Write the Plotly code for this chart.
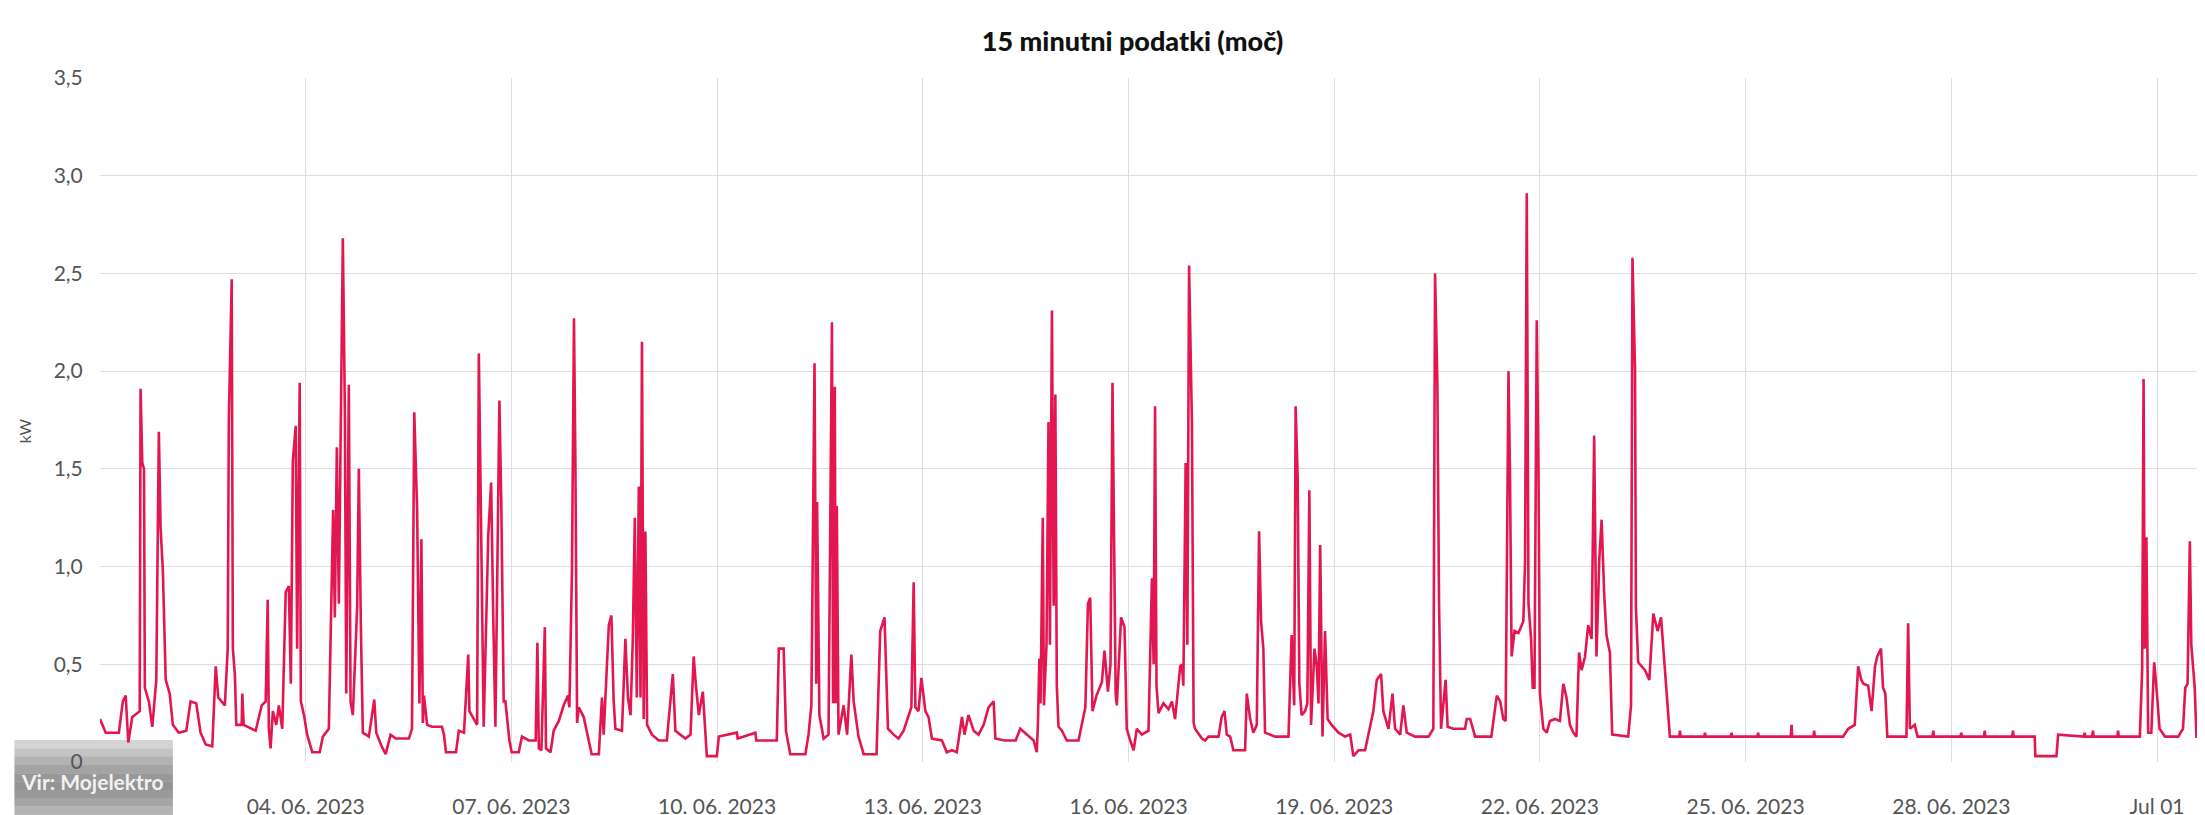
import pandas as pd
import plotly.graph_objects as go

# 15-minute power readings (hours since 2023-06-01 00:00, kW)
jun01_03 = [
    (0.0, 0.22), (2.0, 0.15), (6.6, 0.15), (8.0, 0.31), (9.0, 0.34), (9.9, 0.10), (11.3, 0.23),
    (13.0, 0.25), (13.9, 0.26), (14.2, 1.91), (14.8, 1.53), (15.4, 1.50), (15.7, 0.38), (17.1, 0.31),
    (18.3, 0.18), (19.7, 0.42), (20.6, 1.69), (21.2, 1.20), (22.0, 0.98), (23.0, 0.42), (24.4, 0.35),
    (25.5, 0.19), (27.6, 0.15), (30.2, 0.16), (31.7, 0.31), (33.7, 0.30), (35.2, 0.15), (37.0, 0.09),
    (39.3, 0.08), (40.5, 0.49), (41.4, 0.33), (43.7, 0.29), (44.7, 0.58), (45.1, 1.75), (46.1, 2.47),
    (46.5, 0.58), (47.2, 0.45), (47.7, 0.19), (49.6, 0.19), (49.8, 0.35), (50.3, 0.19), (54.5, 0.16),
    (56.6, 0.29), (58.0, 0.31), (58.7, 0.83), (59.1, 0.17), (59.7, 0.07), (60.5, 0.26), (61.7, 0.19),
    (62.6, 0.29), (63.8, 0.17), (65.0, 0.87), (66.1, 0.90), (66.8, 0.40), (67.5, 1.54), (68.5, 1.72),
    (69.0, 0.58), (69.9, 1.94), (70.3, 0.31), (71.4, 0.24),
]
jun04_06 = [
    (72.5, 0.14), (74.3, 0.05), (76.9, 0.05), (78.0, 0.13), (80.1, 0.17), (81.6, 1.29), (82.2, 0.74),
    (82.9, 1.61), (83.6, 0.81), (85.0, 2.68), (85.7, 1.81), (86.2, 0.35), (87.1, 1.93), (87.7, 0.31),
    (88.5, 0.24), (90.0, 0.79), (90.6, 1.50), (91.3, 0.70), (92.0, 0.15), (94.1, 0.13), (96.0, 0.32),
    (96.7, 0.15), (98.6, 0.08), (100.0, 0.04), (101.7, 0.14), (103.5, 0.12), (104.6, 0.12), (108.1, 0.12),
    (109.2, 0.17), (110.0, 1.79), (111.0, 1.29), (111.8, 0.30), (112.5, 1.14), (113.0, 0.20), (113.4, 0.34),
    (114.5, 0.19), (116.2, 0.18), (119.7, 0.18), (120.4, 0.14), (121.1, 0.05), (124.6, 0.05), (125.6, 0.16),
    (127.4, 0.15), (128.9, 0.55), (129.3, 0.26), (130.8, 0.22), (132.0, 0.19), (132.6, 2.09), (133.5, 1.08),
    (134.3, 0.18), (135.9, 1.16), (136.9, 1.43), (137.6, 0.78), (138.4, 0.18), (139.8, 1.85), (140.5, 1.29),
    (141.3, 0.31), (141.9, 0.31), (143.3, 0.11),
]
jun07_09 = [
    (144.1, 0.05), (146.6, 0.05), (147.7, 0.13), (150.1, 0.11), (152.5, 0.11), (153.1, 0.61), (153.6, 0.07),
    (154.5, 0.06), (155.7, 0.69), (156.1, 0.07), (157.7, 0.05), (158.8, 0.16), (160.6, 0.21), (162.3, 0.29),
    (163.8, 0.34), (164.3, 0.28), (165.2, 0.98), (165.9, 2.27), (166.4, 1.53), (167.0, 0.20), (167.6, 0.28),
    (169.3, 0.23), (171.1, 0.11), (172.1, 0.04), (174.6, 0.04), (175.7, 0.33), (176.3, 0.14), (178.1, 0.70),
    (179.0, 0.75), (179.8, 0.31), (180.4, 0.17), (182.7, 0.16), (183.9, 0.63), (184.8, 0.33), (185.7, 0.24),
    (186.5, 0.63), (187.2, 1.25), (187.9, 0.33), (188.6, 1.41), (189.2, 0.33), (189.7, 2.15), (190.3, 0.22),
    (190.9, 1.18), (191.5, 0.19), (193.2, 0.14), (195.6, 0.11), (198.4, 0.11), (200.5, 0.45), (201.4, 0.16),
    (203.2, 0.14), (204.9, 0.12), (206.7, 0.14), (207.8, 0.54), (208.6, 0.39), (209.6, 0.24), (211.0, 0.36),
    (211.9, 0.14), (212.4, 0.03), (215.9, 0.03),
]
jun10_12 = [
    (216.6, 0.13), (222.9, 0.15), (223.2, 0.12), (229.4, 0.15), (229.7, 0.11), (236.9, 0.11), (237.6, 0.58),
    (239.3, 0.58), (240.1, 0.16), (241.6, 0.04), (246.9, 0.04), (248.0, 0.14), (249.0, 0.29), (250.1, 2.04),
    (250.7, 0.40), (251.0, 1.33), (251.8, 0.24), (253.3, 0.12), (255.0, 0.14), (256.2, 2.25), (256.6, 0.30),
    (257.2, 1.92), (257.5, 0.30), (257.9, 1.31), (258.5, 0.14), (260.3, 0.29), (261.5, 0.14), (263.0, 0.55),
    (263.8, 0.31), (265.5, 0.13), (267.3, 0.04), (271.8, 0.04), (273.1, 0.67), (274.6, 0.74), (275.8, 0.17),
    (277.8, 0.14), (279.5, 0.12), (281.3, 0.16), (284.0, 0.28), (284.8, 0.92), (285.4, 0.28), (286.5, 0.26),
    (287.5, 0.43),
]
jun13_15 = [
    (288.9, 0.26), (290.0, 0.23), (291.2, 0.12), (294.7, 0.11), (296.4, 0.05), (298.2, 0.06), (299.9, 0.05),
    (301.7, 0.23), (302.6, 0.14), (304.0, 0.24), (305.8, 0.16), (307.5, 0.14), (309.3, 0.19), (311.0, 0.28),
    (312.8, 0.31), (313.4, 0.12), (316.6, 0.11), (320.5, 0.11), (322.1, 0.17), (324.4, 0.14), (326.8, 0.11),
    (327.9, 0.05), (328.3, 0.20), (328.8, 0.53), (329.2, 0.30), (330.0, 1.25), (330.4, 0.29), (331.3, 0.60),
    (332.0, 1.74), (332.5, 0.60), (333.2, 2.31), (333.8, 0.80), (334.4, 1.88), (334.9, 0.39), (335.5, 0.18),
    (336.7, 0.16), (338.4, 0.11), (342.5, 0.11), (344.9, 0.28), (345.8, 0.81), (346.6, 0.84), (347.4, 0.26),
    (348.8, 0.34), (350.7, 0.41), (351.6, 0.57), (352.8, 0.36), (353.7, 0.50), (354.4, 1.94), (355.1, 0.78),
    (355.5, 0.35), (355.9, 0.29), (357.4, 0.74), (358.6, 0.69), (359.4, 0.17),
]
jun16_18 = [
    (360.6, 0.11), (361.8, 0.06), (362.9, 0.17), (364.7, 0.14), (367.0, 0.16), (368.2, 0.94), (368.8, 0.50),
    (369.3, 1.82), (369.8, 0.39), (370.5, 0.25), (372.2, 0.30), (374.0, 0.27), (375.2, 0.31), (376.3, 0.22),
    (378.1, 0.49), (378.7, 0.50), (379.2, 0.39), (380.0, 1.53), (380.6, 0.60), (381.2, 2.54), (382.2, 1.73),
    (382.8, 0.20), (383.3, 0.17), (385.7, 0.12), (386.8, 0.11), (388.0, 0.13), (391.5, 0.13), (392.6, 0.23),
    (393.6, 0.26), (394.4, 0.14), (395.6, 0.13), (396.7, 0.06), (400.8, 0.06), (401.4, 0.35), (402.6, 0.22),
    (403.7, 0.15), (404.9, 0.19), (405.7, 1.18), (406.4, 0.72), (407.2, 0.58), (407.8, 0.15), (411.3, 0.13),
    (416.0, 0.13), (417.1, 0.65), (418.0, 0.29), (418.5, 1.82), (419.2, 1.46), (419.8, 0.40), (420.6, 0.24),
    (421.8, 0.26), (422.6, 0.30), (423.3, 1.39), (423.9, 0.19), (425.1, 0.58), (425.9, 0.49), (426.5, 0.30),
    (427.1, 1.11), (427.9, 0.13), (428.8, 0.67), (429.7, 0.22), (431.1, 0.19),
]
jun19_21 = [
    (433.5, 0.15), (435.8, 0.13), (437.6, 0.14), (438.7, 0.03), (440.5, 0.06), (442.8, 0.06), (444.0, 0.15),
    (445.7, 0.26), (446.9, 0.42), (448.4, 0.45), (449.2, 0.26), (451.0, 0.17), (452.4, 0.35), (453.3, 0.17),
    (455.1, 0.14), (456.2, 0.29), (457.4, 0.15), (460.3, 0.13), (465.0, 0.13), (466.7, 0.17), (467.3, 2.50),
    (468.1, 1.95), (468.7, 0.81), (469.4, 0.17), (471.0, 0.42), (471.7, 0.18), (473.7, 0.17), (477.8, 0.17),
    (478.4, 0.22), (479.6, 0.22), (481.3, 0.13), (487.0, 0.13), (488.9, 0.34), (490.1, 0.31), (491.2, 0.22),
    (492.0, 0.21), (493.0, 2.00), (493.5, 1.51), (494.1, 0.54), (495.1, 0.67), (496.5, 0.66), (498.2, 0.72),
    (498.8, 1.02), (499.4, 2.91), (500.0, 0.81), (500.9, 0.63), (501.5, 0.38), (502.1, 0.38), (502.9, 2.26),
    (503.5, 1.50),
]
jun22_24 = [
    (504.0, 0.35), (505.2, 0.17), (506.4, 0.15), (507.5, 0.21), (509.3, 0.22), (511.0, 0.21), (512.2, 0.40),
    (513.3, 0.33), (514.5, 0.19), (515.7, 0.15), (516.8, 0.13), (517.7, 0.56), (518.6, 0.47), (519.8, 0.54),
    (520.9, 0.70), (522.1, 0.63), (523.0, 1.67), (523.8, 0.54), (524.8, 1.04), (525.6, 1.24), (526.5, 0.86),
    (527.3, 0.65), (528.5, 0.56), (529.3, 0.14), (534.9, 0.13), (535.9, 0.29), (536.4, 2.58), (537.3, 2.00),
    (537.6, 0.79), (538.4, 0.51), (540.8, 0.47), (542.3, 0.42), (543.7, 0.76), (545.2, 0.67), (546.4, 0.74),
    (547.5, 0.54), (548.3, 0.35), (549.5, 0.13), (552.8, 0.13), (553.0, 0.16), (553.3, 0.13), (561.5, 0.13),
    (561.8, 0.15), (562.0, 0.13), (570.8, 0.13), (571.1, 0.15), (571.3, 0.13),
]
jun25_27 = [
    (580.1, 0.13), (580.4, 0.15), (580.6, 0.13), (591.8, 0.13), (592.1, 0.19), (592.3, 0.13), (599.7, 0.13),
    (600.0, 0.16), (600.2, 0.13), (610.1, 0.13), (611.9, 0.17), (614.2, 0.19), (615.4, 0.49), (616.5, 0.42),
    (617.2, 0.40), (618.9, 0.39), (620.1, 0.26), (621.3, 0.49), (622.1, 0.54), (623.4, 0.58), (624.1, 0.38),
    (624.9, 0.35), (625.6, 0.13), (632.3, 0.13), (632.9, 0.71), (633.5, 0.17), (635.2, 0.19), (636.2, 0.13),
    (641.4, 0.13), (641.7, 0.16), (641.9, 0.13),
]
jun28_jul01 = [
    (651.2, 0.13), (651.5, 0.15), (651.7, 0.13), (659.4, 0.13), (659.7, 0.16), (659.9, 0.13), (669.3, 0.13),
    (669.6, 0.16), (669.8, 0.13), (677.2, 0.13), (677.4, 0.03), (684.8, 0.03), (685.4, 0.14), (694.4, 0.13),
    (694.7, 0.15), (694.9, 0.13), (697.3, 0.13), (697.6, 0.16), (697.8, 0.13), (706.1, 0.13), (706.4, 0.16),
    (706.6, 0.13), (714.0, 0.13), (714.8, 0.47), (715.3, 1.96), (715.7, 0.58), (716.3, 1.15), (716.9, 0.15),
    (718.0, 0.15), (719.0, 0.51), (719.7, 0.40), (720.9, 0.17), (722.8, 0.13), (727.4, 0.13), (729.1, 0.17),
    (729.9, 0.38), (730.7, 0.40), (731.5, 1.13), (732.0, 0.60), (733.2, 0.38), (733.8, 0.13), (738.4, 0.13),
    (739.0, 0.58), (739.6, 0.65),
]

start = pd.Timestamp("2023-06-01 00:00")
view_end_hours = 739.6

tick_dates = ["2023-06-04", "2023-06-07", "2023-06-10", "2023-06-13", "2023-06-16",
              "2023-06-19", "2023-06-22", "2023-06-25", "2023-06-28", "2023-07-01"]
tick_labels = ["04. 06. 2023", "07. 06. 2023", "10. 06. 2023", "13. 06. 2023", "16. 06. 2023",
               "19. 06. 2023", "22. 06. 2023", "25. 06. 2023", "28. 06. 2023", "Jul 01"]
y_ticks = [0, 0.5, 1.0, 1.5, 2.0, 2.5, 3.0, 3.5]
y_labels = ["0", "0,5", "1,0", "1,5", "2,0", "2,5", "3,0", "3,5"]

series = (jun01_03 + jun04_06 + jun07_09 + jun10_12 + jun13_15 + jun16_18 +
          jun19_21 + jun22_24 + jun25_27 + jun28_jul01)
times = [start + pd.Timedelta(hours=h) for h, _ in series]
values = [v for _, v in series]

fig = go.Figure()
fig.add_trace(go.Scatter(
    x=times, y=values, mode="lines",
    line=dict(color="#e3174f", width=2.6),
    hoverinfo="skip", showlegend=False,
))

grid = "#dedede"
tick_font = dict(family="Lato, Roboto, sans-serif", size=21, color="#555555")

fig.update_layout(
    width=2205, height=815,
    margin=dict(l=92, r=0, t=70, b=61),
    paper_bgcolor="white", plot_bgcolor="white",
    title=dict(
        text="15 minutni podatki (moč)",
        x=0.51, xref="container", xanchor="center",
        y=1 - 34 / 815, yref="container", yanchor="middle",
        font=dict(family="Lato, Roboto, sans-serif", size=27, color="#111111", weight=900),
    ),
    xaxis=dict(
        range=[start, start + pd.Timedelta(hours=view_end_hours)],
        tickvals=[pd.Timestamp(d) for d in tick_dates], ticktext=tick_labels,
        showgrid=True, gridcolor=grid, gridwidth=1,
        ticks="outside", ticklen=26, tickcolor="rgba(0,0,0,0)",
        tickfont=tick_font, zeroline=False, showline=False,
    ),
    yaxis=dict(
        range=[0, 3.5], tickvals=y_ticks, ticktext=y_labels,
        showgrid=True, gridcolor=grid, gridwidth=1,
        ticks="outside", ticklen=12, tickcolor="rgba(0,0,0,0)",
        tickfont=tick_font, zeroline=False, showline=False,
    ),
)

fig.add_annotation(
    text="kW", xref="paper", yref="paper", x=-0.036, y=0.485,
    xanchor="center", yanchor="middle", textangle=-90, showarrow=False,
    font=dict(family="Lato, Roboto, sans-serif", size=16, color="#555555"),
)

# watermark box with vertical gray gradient (drawn beneath axis labels)
box_x0, box_x1 = -0.0405, 0.0345
box_y_top, box_y_bot = 0.0322, -0.0892
strip_colors = ["#d4d4d4", "#c4c4c4", "#b3b3b3", "#a3a3a3", "#989898", "#949494",
                "#999999", "#a5a5a5", "#b3b3b3", "#c2c2c2"]
n = len(strip_colors)
step = (box_y_top - box_y_bot) / n
for i, c in enumerate(strip_colors):
    fig.add_shape(type="rect", xref="paper", yref="paper", layer="below",
                  x0=box_x0, x1=box_x1, y0=box_y_top - (i + 1) * step - 0.0005,
                  y1=box_y_top - i * step, fillcolor=c, line=dict(width=0))
fig.add_annotation(
    text="<b>Vir: Mojelektro</b>", xref="paper", yref="paper", x=-0.0385, y=-0.029,
    xanchor="left", yanchor="middle", showarrow=False,
    font=dict(family="Lato, Roboto, sans-serif", size=21, color="rgba(255,255,255,0.9)"),
)

fig.write_html("out.html")
